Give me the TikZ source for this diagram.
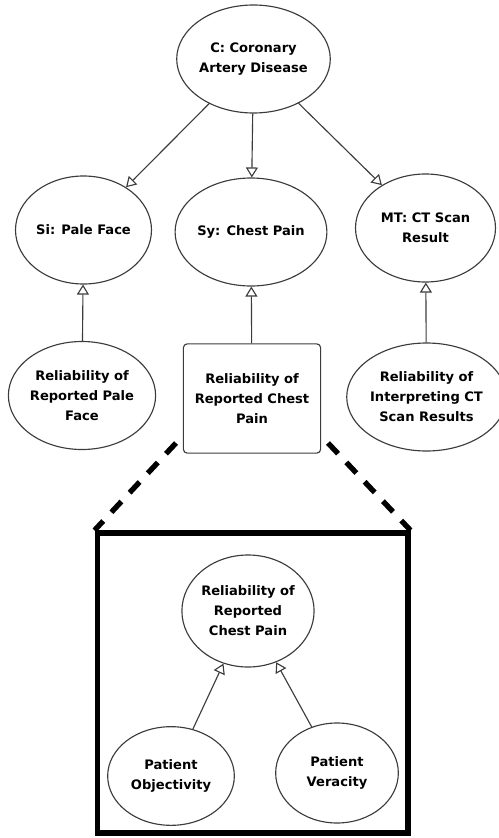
\documentclass[tikz,border=0pt]{standalone}
\usepackage{fontspec}
\setmainfont{DejaVu Sans}
\usepackage{xcolor}
\definecolor{Col1}{RGB}{60,60,60}
\definecolor{Col2}{RGB}{0,0,0}
\usepackage{tikz}
\usetikzlibrary{shapes}
\usetikzlibrary{arrows.meta}
\tikzstyle{Node}=[ellipse,draw=Col1,fill=white,inner sep=0pt,line width=.85pt,
minimum width=102pt,minimum height=81pt,align=center,
font=\bfseries\fontsize{9.8}{15}\selectfont]
\tikzstyle{Box}=[Node,rectangle,rounded corners=3pt,
minimum width=103pt,minimum height=82pt]
\tikzstyle{Edge}=[draw=Col1,line width=.85pt,
-{Triangle[open,length=7.5pt,width=9pt]}]
\tikzstyle{Zoom}=[draw=Col2,line width=4pt,dash pattern=on 11pt off 9pt]

\begin{document}
\begin{tikzpicture}[x=.75pt,y=-.75pt]
            \useasboundingbox(0,0)rectangle(499,838);
            \node[Node](C)at(253.5,59){C: Coronary\\Artery Disease};
            \node[Node](Si)at(83.5,230){Si: Pale Face};
            \node[Node](Sy)at(251,232){Sy: Chest Pain};
            \node[Node,minimum width=105pt](MT)at(425.5,228){MT: CT Scan\\Result};
            \node[Node](RSi)at(82,395.5){Reliability of\\Reported Pale\\Face};
            \node[Box](RSy)at(252,398.5){Reliability of\\Reported Chest\\Pain};
            \node[Node](RMT)at(426.5,397){Reliability of\\Interpreting CT\\Scan Results};
            \draw[Edge](C)--(Si);
            \draw[Edge](C)--(Sy);
            \draw[Edge](C)--(MT);
            \draw[Edge](RSi)--(Si);
            \draw[Edge](RSy)--(Sy);
            \draw[Edge](RMT)--(MT);
            %
            \node[draw=Col2,line width=4pt,minimum width=233pt,
                minimum height=225pt](Z)at(252.5,683){};
            \coordinate(zl)at(176,443);
            \coordinate(zr)at(328,443);
            \draw[Zoom](zl)--(Z.north west);
            \draw[Zoom](zr)--(Z.north east);
            %
            \node[Node,minimum width=92pt,minimum height=84pt](R)at(248,611)
                {Reliability of\\Reported\\Chest Pain};
            \node[Node,minimum width=95pt,minimum height=74pt](PO)at(171,776)
                {Patient\\Objectivity};
            \node[Node,minimum width=92pt,minimum height=75pt](PV)at(337,773)
                {Patient\\Veracity};
            \draw[Edge](PO)--(R);
            \draw[Edge](PV)--(R);
\end{tikzpicture}
\end{document}
